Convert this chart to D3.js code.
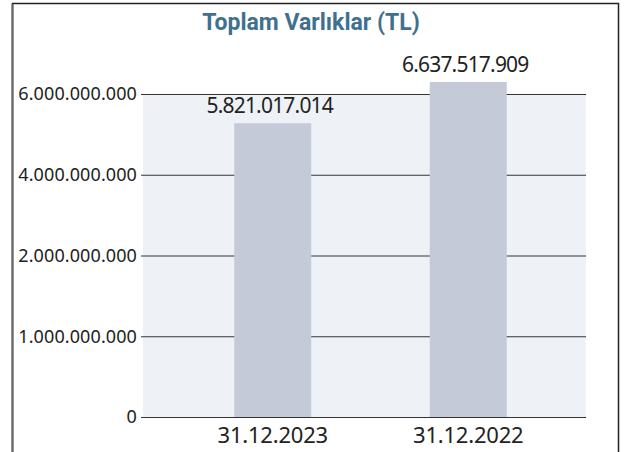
<!DOCTYPE html>
<html><head><meta charset="utf-8">
<script src="https://cdn.jsdelivr.net/npm/d3@7"></script>
<style>html,body{margin:0;padding:0;background:#fff;}svg{display:block;}</style>
</head><body>
<svg id="c" width="628" height="452"></svg>
<script>
const title = "Toplam Varlıklar (TL)";
const categories = ["31.12.2023", "31.12.2022"];
const values = [5821017014, 6637517909];
const valueLabels = ["5.821.017.014", "6.637.517.909"];
const tickLabels = ["0", "1.000.000.000", "2.000.000.000", "4.000.000.000", "6.000.000.000"];

const svg = d3.select("#c");
const plotL = 143, plotR = 586, plotT = 94, plotB = 417;

// frame
svg.append("path").attr("d", "M12.5,452 V3.5 H618.5 V452").attr("fill", "none").attr("stroke", "#222").attr("stroke-width", 1.5);
svg.append("line").attr("x1", 12.5).attr("x2", 12.5).attr("y1", 4).attr("y2", 452).attr("stroke", "#666").attr("stroke-width", 2);

svg.append("rect").attr("x", plotL).attr("y", plotT).attr("width", plotR - plotL).attr("height", plotB - plotT).attr("fill", "#EEF2F7");

const yTick = d3.scalePoint().domain(tickLabels).range([plotB, plotT]);
const yAxis = d3.axisLeft(yTick).tickSize(-(plotR - 141)).tickPadding(4);
const ga = svg.append("g").attr("transform", `translate(141,0)`).call(yAxis);
ga.select(".domain").remove();
ga.selectAll(".tick line").attr("stroke", "#333").attr("stroke-width", 1.2).attr("x1", 0).attr("x2", plotR - 141);
ga.selectAll(".tick text").attr("font-family", "'Noto Sans', sans-serif").attr("font-size", 18).attr("fill", "#222").attr("letter-spacing", 0.1);

const x = d3.scaleBand().domain(categories).range([175, 566]).paddingInner(0.606).paddingOuter(0.303);
const y = d3.scaleLinear().domain([0, d3.max(values)]).range([plotB, 82]);

svg.selectAll("rect.bar").data(values).join("rect").attr("class", "bar")
  .attr("x", (d, i) => x(categories[i])).attr("width", x.bandwidth())
  .attr("y", d => y(d)).attr("height", d => plotB - y(d)).attr("fill", "#C5CAD9");

svg.selectAll("text.val").data(values).join("text").attr("class", "val")
  .attr("x", (d, i) => x(categories[i]) + x.bandwidth() / 2 - 3).attr("y", d => y(d) - 10)
  .attr("text-anchor", "middle").attr("font-family", "'Noto Sans', sans-serif").attr("font-size", 21).attr("fill", "#222").attr("letter-spacing", -0.8)
  .text((d, i) => valueLabels[i]);

const gx = svg.append("g").attr("transform", `translate(0,${plotB})`).call(d3.axisBottom(x).tickSize(0).tickPadding(10));
gx.select(".domain").remove();
gx.selectAll(".tick text").attr("font-family", "'Noto Sans', sans-serif").attr("font-size", 22).attr("fill", "#222").attr("letter-spacing", -0.2);

svg.append("text").attr("x", 311).attr("y", 30).attr("text-anchor", "middle")
  .attr("font-family", "Roboto, sans-serif").attr("font-weight", "bold").attr("font-size", 23).attr("fill", "#41708F")
  .text(title);
</script>
</body></html>
